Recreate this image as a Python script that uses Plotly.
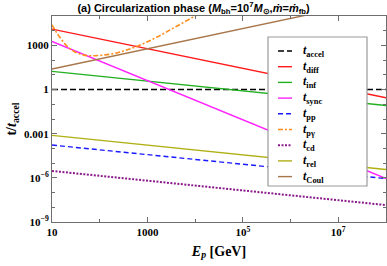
import plotly.graph_objects as go

# ---- data ----
E_ends = [10, 1e8]
t_accel = [1, 1]
t_diff = [10**4.11, 10**-0.56]
t_inf = [10**1.24, 10**-1.08]
t_sync = [10**3.27, 10**-6.05]
t_pp = [10**-3.77, 10**-6.05]
t_cd = [10**-5.53, 10**-7.85]
t_rel = [10**-3.11, 10**-5.43]
t_coul = [10**1.4, 10**6.21]

E_pg = [10**x for x in [1.0, 1.1, 1.2, 1.3, 1.4, 1.5, 1.65, 1.8, 2.0, 2.25, 2.5, 2.75, 3.0, 3.25, 3.5, 3.75, 4.0, 4.15]]
t_pg = [10**y for y in [4.4, 3.85, 3.4, 3.0, 2.72, 2.52, 2.36, 2.3, 2.32, 2.42, 2.62, 2.9, 3.25, 3.65, 4.1, 4.55, 5.0, 5.25]]

x_tickvals = [10, 1e3, 1e5, 1e7]
x_ticktext = ["10", "1000", "10<sup>5</sup>", "10<sup>7</sup>"]
y_tickvals = [1e-9, 1e-6, 1e-3, 1, 1e3]
y_ticktext = ["10<sup>−9</sup>", "10<sup>−6</sup>", "0.001", "1", "1000"]

series = [
    ("accel", E_ends, t_accel, "black", dict(dash="6px,3px"), 1.6),
    ("diff", E_ends, t_diff, "#ff1a1a", dict(), 1.4),
    ("inf", E_ends, t_inf, "#22b022", dict(), 1.4),
    ("sync", E_ends, t_sync, "#ff22ff", dict(), 1.4),
    ("pp", E_ends, t_pp, "#1a1aff", dict(dash="5px,3px"), 1.4),
    ("pγ", E_pg, t_pg, "#ff8c1a", dict(dash="5px,2px,2px,2px", shape="spline"), 1.6),
    ("cd", E_ends, t_cd, "#8a1a8a", dict(dash="2px,1.5px"), 2.0),
    ("rel", E_ends, t_rel, "#b0b014", dict(), 1.4),
    ("Coul", E_ends, t_coul, "#a8764a", dict(), 1.4),
]

W, H = 387, 266
ML, MR, MT, MB = 52, 1, 16, 44
PW, PH = W - ML - MR, H - MT - MB


def px2paper(px, py):
    return (px - ML) / PW, (H - MB - py) / PH


fig = go.Figure()
for name, x, y, color, extra, w in series:
    fig.add_trace(go.Scatter(
        x=x, y=y, mode="lines",
        name=f"<i>t</i><sub>{name}</sub>",
        line=dict(color=color, width=w, **extra),
        showlegend=False,
    ))

serif = "Liberation Serif"

# ---- legend box drawn in paper coordinates (layout decoration) ----
shapes = []
annotations = []
bx0, by0 = px2paper(268, 186)
bx1, by1 = px2paper(367, 37)
shapes.append(dict(type="rect", xref="paper", yref="paper", x0=bx0, y0=by0, x1=bx1, y1=by1,
                   fillcolor="white", line=dict(color="#9a9a9a", width=1.2), layer="above"))
for i, (name, x, y, color, extra, w) in enumerate(series):
    cy = 51 + 15.7 * i
    lx0, ly = px2paper(278, cy)
    lx1, _ = px2paper(292, cy)
    dash = extra.get("dash", "solid")
    shapes.append(dict(type="line", xref="paper", yref="paper", x0=lx0, x1=lx1, y0=ly, y1=ly,
                       line=dict(color=color, width=w, dash=dash), layer="above"))
    tx, ty = px2paper(301, cy)
    annotations.append(dict(
        xref="paper", yref="paper", x=tx, y=ty, xanchor="left", yanchor="middle",
        text=f"<i>t</i><sub>{name}</sub>", showarrow=False,
        font=dict(family=serif, size=12, color="black", weight="bold"),
    ))

axis_common = dict(
    type="log", showgrid=False, zeroline=False, automargin=False,
    showline=True, linecolor="#6e6e6e", linewidth=1, mirror="allticks",
    ticks="inside", ticklen=5, tickcolor="#6e6e6e", tickwidth=1,
    tickfont=dict(family=serif, size=11, color="black", weight="bold"),
)

fig.update_layout(
    width=W, height=H,
    template="none",
    margin=dict(l=ML, r=MR, t=MT, b=MB, autoexpand=False),
    paper_bgcolor="white", plot_bgcolor="white",
    title=dict(
        text="(a) Circularization phase (<i>M</i><sub>bh</sub>=10<sup>7</sup><i>M</i><sub>⊙</sub>,<i>ṁ</i>=<i>ṁ</i><sub>fb</sub>)",
        x=0.5, xanchor="center", y=0.985, yanchor="top",
        font=dict(family="Liberation Sans", size=11, color="black", weight="bold"),
    ),
    showlegend=False,
    shapes=shapes,
    annotations=annotations,
    xaxis=dict(
        **axis_common,
        range=[1, 8],
        tickvals=x_tickvals, ticktext=x_ticktext,
        minor=dict(tickvals=[10**k for k in range(1, 9)], ticks="inside", ticklen=3, tickcolor="#6e6e6e"),
        title=dict(text="<i>E</i><sub><i>p</i></sub> [GeV]", standoff=8,
                   font=dict(family=serif, size=14, color="black", weight="bold")),
    ),
    yaxis=dict(
        **axis_common,
        range=[-9, 5],
        tickvals=y_tickvals, ticktext=y_ticktext,
        minor=dict(tickvals=[10**k for k in range(-9, 6)], ticks="inside", ticklen=3, tickcolor="#6e6e6e"),
        title=dict(text="t/<i>t</i><sub>accel</sub>", standoff=4,
                   font=dict(family=serif, size=14, color="black", weight="bold")),
    ),
)

fig.write_html(
    "out.html",
    config={"displayModeBar": False},
    post_script="document.body.style.margin='0';document.body.style.overflow='hidden';",
)
